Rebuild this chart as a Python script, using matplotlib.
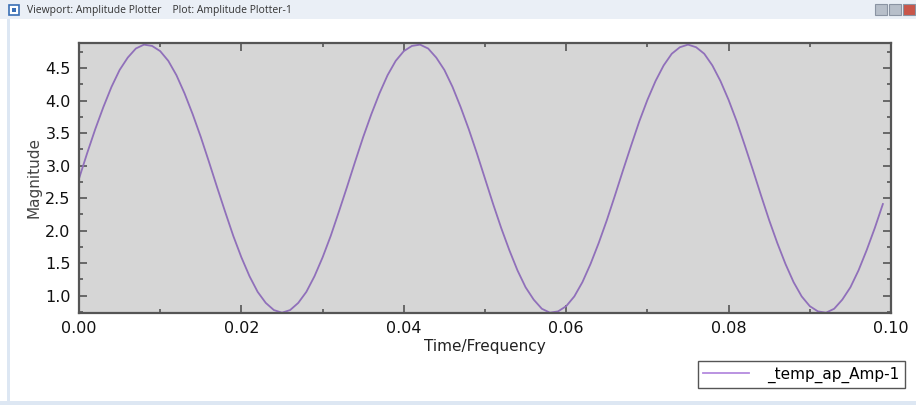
import matplotlib
matplotlib.use("Agg")
import matplotlib.pyplot as plt
from matplotlib.patches import Rectangle
from matplotlib.ticker import MultipleLocator, FormatStrFormatter

time = [i * 0.001 for i in range(100)]
magnitude = [
    2.80, 3.19, 3.56, 3.90, 4.21, 4.47, 4.66, 4.80, 4.86, 4.84,
    4.76, 4.61, 4.39, 4.11, 3.79, 3.44, 3.06, 2.67, 2.29, 1.92,
    1.59, 1.30, 1.06, 0.89, 0.78, 0.74, 0.78, 0.89, 1.06, 1.30,
    1.59, 1.92, 2.29, 2.67, 3.06, 3.44, 3.79, 4.11, 4.39, 4.61,
    4.76, 4.84, 4.86, 4.80, 4.66, 4.47, 4.21, 3.90, 3.56, 3.19,
    2.80, 2.41, 2.04, 1.70, 1.39, 1.13, 0.94, 0.80, 0.74, 0.76,
    0.84, 0.99, 1.21, 1.49, 1.81, 2.16, 2.54, 2.93, 3.31, 3.68,
    4.01, 4.30, 4.54, 4.72, 4.82, 4.86, 4.82, 4.72, 4.54, 4.30,
    4.01, 3.68, 3.31, 2.93, 2.54, 2.16, 1.81, 1.49, 1.21, 0.99,
    0.84, 0.76, 0.74, 0.80, 0.94, 1.13, 1.39, 1.70, 2.04, 2.41,
]
series_name = "_temp_ap_Amp-1"
window_title = "Viewport: Amplitude Plotter    Plot: Amplitude Plotter-1"
x_label = "Time/Frequency"
y_label = "Magnitude"

W, H = 916, 405
fig = plt.figure(figsize=(W / 100, H / 100), dpi=100)
fig.patch.set_facecolor("white")

# window chrome
fig.patches.append(Rectangle((0, 1 - 19 / H), 1, 19 / H, transform=fig.transFigure,
                             facecolor="#eaeff6", edgecolor="none", zorder=0))
fig.patches.append(Rectangle((7 / W, 0), 3 / W, 1 - 19 / H, transform=fig.transFigure,
                             facecolor="#dde7f3", edgecolor="none", zorder=0))
fig.patches.append(Rectangle((0, 0), 1, 4 / H, transform=fig.transFigure,
                             facecolor="#dde7f3", edgecolor="none", zorder=0))
# icon
fig.patches.append(Rectangle((9 / W, 1 - 15 / H), 10 / W, 10 / H, transform=fig.transFigure,
                             facecolor="#ffffff", edgecolor="#3a6fb5", lw=1.2, zorder=1))
fig.patches.append(Rectangle((12 / W, 1 - 12 / H), 4 / W, 4 / H, transform=fig.transFigure,
                             facecolor="#3a6fb5", edgecolor="none", zorder=2))
# window buttons
for bx, col in [(875, "#b7bfca"), (889, "#b7bfca"), (903, "#c9564a")]:
    fig.patches.append(Rectangle((bx / W, 1 - 15 / H), 12 / W, 11 / H, transform=fig.transFigure,
                                 facecolor=col, edgecolor="#8a94a3", lw=0.8, zorder=1))
fig.text(27 / W, 1 - 10 / H, window_title, fontsize=7.5, color="#333333",
         va="center", ha="left", family="Open Sans")

ax = fig.add_axes([79 / W, 1 - 313 / H, (891 - 79) / W, (313 - 43) / H])
ax.set_facecolor("#d6d6d6")
line, = ax.plot(time, magnitude, color="#9070ba", lw=1.3)

ax.set_xlim(0.0, 0.10)
ax.set_ylim(0.735, 4.885)
ax.xaxis.set_major_locator(MultipleLocator(0.02))
ax.xaxis.set_minor_locator(MultipleLocator(0.01))
ax.yaxis.set_major_locator(MultipleLocator(0.5))
ax.yaxis.set_minor_locator(MultipleLocator(0.25))
ax.xaxis.set_major_formatter(FormatStrFormatter("%.2f"))
ax.yaxis.set_major_formatter(FormatStrFormatter("%.1f"))
ax.tick_params(which="both", direction="in", top=True, right=True, color="#555555", width=1.2)
ax.tick_params(which="major", length=6, labelsize=11.5, labelcolor="#111111", pad=6)
ax.tick_params(which="minor", length=3)
for s in ax.spines.values():
    s.set_color("#555555")
    s.set_linewidth(1.6)

ax.set_xlabel(x_label, fontsize=11, color="#222222", labelpad=2)
ax.set_ylabel(y_label, fontsize=11, color="#444444", labelpad=3)

leg = fig.legend([line], [series_name], loc="lower right",
                 bbox_to_anchor=(905 / W, 1 - 388 / H), bbox_transform=fig.transFigure,
                 fancybox=False, framealpha=1, edgecolor="#555555", fontsize=11,
                 handlelength=3.0, handletextpad=1.2, borderpad=0.35, borderaxespad=0)
leg.get_frame().set_linewidth(1.0)
leg.get_lines()[0].set_color("#b48ade")
leg.get_lines()[0].set_linewidth(1.3)

fig.savefig("out.png", dpi=100)
